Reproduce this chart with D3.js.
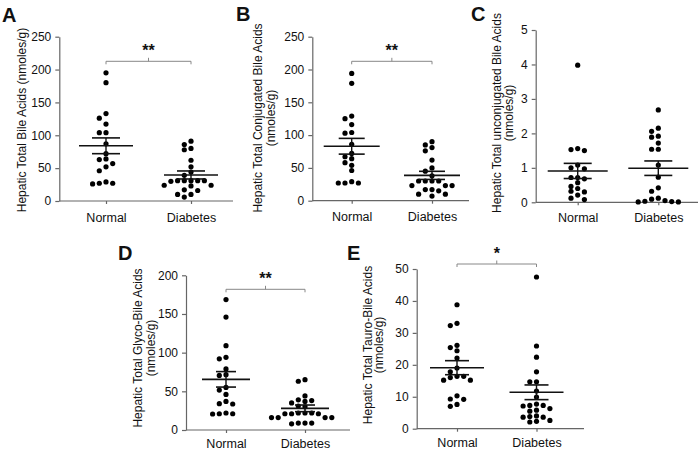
<!DOCTYPE html>
<html><head><meta charset="utf-8">
<script src="https://cdn.jsdelivr.net/npm/d3@7"></script>
<style>
body{margin:0;background:#fff}
svg{display:block}
text{font-family:"Liberation Sans",Arial,sans-serif;fill:#111}
</style>
</head><body>
<svg id="chart" width="700" height="450"></svg>
<script>
// ---------- data ----------
const categories = ["Normal", "Diabetes"];
const panelLetters = ["A", "B", "C", "D", "E"];
const yTitles = [
  ["Hepatic Total Bile Acids (nmoles/g)"],
  ["Hepatic Total Conjugated Bile Acids", "(nmoles/g)"],
  ["Hepatic Total unconjugated Bile Acids", "(nmoles/g)"],
  ["Hepatic Total Glyco-Bile Acids", "(nmoles/g)"],
  ["Hepatic Total Tauro-Bile Acids", "(nmoles/g)"]
];
const yTicksA = [0, 50, 100, 150, 200, 250];
const yTicksB = [0, 50, 100, 150, 200, 250];
const yTicksC = [0, 1, 2, 3, 4, 5];
const yTicksD = [0, 50, 100, 150, 200];
const yTicksE = [0, 10, 20, 30, 40, 50];
const significance = ["**", "**", "", "**", "*"];

const normalA   = [195, 180, 133, 126, 117, 104, 104, 87, 72, 63, 64, 57, 52, 46, 27, 26, 27, 29];
const diabetesA = [91, 86, 80, 78, 62, 52, 44, 39, 31, 31, 31, 30, 31, 31, 24, 24, 23, 17, 16, 10, 6, 10];
const meanA = [84, 39.6];
const semA  = [12, 6.1];

const normalB   = [194, 179, 129, 125, 116, 104, 103, 86, 72, 64, 67, 58, 54, 46, 27, 27, 27, 29];
const diabetesB = [90, 85, 81, 76, 62, 50, 45, 38, 30, 30, 30, 30, 23, 23, 23, 17, 17, 10, 7, 10, 15];
const meanB = [83, 38.6];
const semB  = [12, 6.2];

const normalC   = [3.98, 1.56, 1.5, 1.53, 1.08, 1.0, 0.97, 0.72, 0.72, 0.68, 0.57, 0.46, 0.4, 0.32, 0.3, 0.21, 0.12, 0.08];
const diabetesC = [2.68, 2.15, 2.06, 1.92, 1.89, 1.72, 1.54, 1.54, 1.08, 0.73, 0.42, 0.32, 0.12, 0.05, 0.02, 0.01, 0.01, 0.03, 0.09];
const meanC = [0.91, 0.99];
const semC  = [0.22, 0.21];

const normalD   = [168.6, 146, 109, 92, 94, 79, 70.6, 71.5, 55, 51.6, 46, 34, 33.6, 37, 21, 21, 20.7, 22];
const diabetesD = [65, 63, 44, 39, 38, 37, 35, 31, 30, 22, 22, 21, 21, 21, 22, 16, 16, 16, 16, 9, 9, 8, 9];
const meanD = [65.5, 28];
const semD  = [10, 4.3];

const normalE   = [38.8, 32.3, 33, 26.1, 25.4, 24.4, 22.1, 19, 17.8, 16.4, 16, 15.2, 15.2, 16.4, 10.3, 9.2, 9.3, 7, 7.6];
const diabetesE = [47.5, 25.9, 22.4, 17.8, 14.7, 14.7, 11.8, 9.9, 7.7, 7.3, 7.1, 7.3, 6.3, 5.8, 5.5, 4.0, 3.8, 3.6, 3.6, 2.3, 2.1, 2.6];
const meanE = [19.1, 11.4];
const semE  = [2.2, 2.3];

// ---------- layout ----------
const layout = [
  {x0:59.3,  x1:233, top:36.7,  bot:201,   cN:106,   cD:191,   tx:[26],          ty:120, lx:2,   ly:22,  br:61.3,  mh:27, sh:14, lab:20.5},
  {x0:312.3, x1:469, top:36.7,  bot:200.7, cN:351.7, cD:432,   tx:[262,274.5],   ty:118, lx:236, ly:21,  br:61.3,  mh:28, sh:13, lab:20.5},
  {x0:535.7, x1:698, top:30,    bot:202.3, cN:577.7, cD:658.3, tx:[501,513],     ty:113, lx:471, ly:21,  br:null,  mh:30, sh:14, lab:19.5},
  {x0:186,   x1:350, top:275.3, bot:430,   cN:226,   cD:305,   tx:[141.7,155],   ty:348, lx:118, ly:260, br:289.3, mh:24, sh:10, lab:17.5},
  {x0:416.7, x1:584, top:269,   bot:428.7, cN:457,   cD:536.5, tx:[371.7,383.3], ty:345, lx:347, ly:260, br:264,   mh:27, sh:12, lab:18}
];

const panels = [
  {ticks:yTicksA, groups:[normalA, diabetesA], mean:meanA, sem:semA},
  {ticks:yTicksB, groups:[normalB, diabetesB], mean:meanB, sem:semB},
  {ticks:yTicksC, groups:[normalC, diabetesC], mean:meanC, sem:semC},
  {ticks:yTicksD, groups:[normalD, diabetesD], mean:meanD, sem:semD},
  {ticks:yTicksE, groups:[normalE, diabetesE], mean:meanE, sem:semE}
];

const svg = d3.select("#chart");
const axisColor = "#666";
const R = 2.6, STEP = 6.7, MIND = 4.8;
const FONT = '"Liberation Sans",Arial,sans-serif';

function swarm(values, y, cx) {
  const pts = values.map(v => ({v, py: y(v)})).sort((a, b) => a.py - b.py);
  const placed = [];
  const order = [0, -1, 1, -2, 2, -3, 3, -4, 4, -5, 5, -6, 6, -7, 7];
  pts.forEach(p => {
    p.s = 0;
    for (const s of order) {
      if (!placed.some(q => q.s === s && Math.abs(q.py - p.py) < MIND)) { p.s = s; break; }
    }
    placed.push(p);
  });
  return pts.map(p => ({v: p.v, py: p.py, px: cx + p.s * STEP}));
}

panels.forEach((p, i) => {
  const L = layout[i];
  const g = svg.append("g");
  const y = d3.scaleLinear().domain([0, d3.max(p.ticks)]).range([L.bot, L.top]);
  const x = d3.scalePoint().domain(categories).range([L.cN, L.cD]);

  // y axis
  const ya = g.append("g").attr("transform", `translate(${L.x0},0)`)
    .call(d3.axisLeft(y).tickValues(p.ticks).tickFormat(d3.format("d")).tickSize(4).tickSizeOuter(0).tickPadding(4));
  ya.select(".domain").attr("stroke", axisColor).attr("stroke-width", 1.2);
  ya.selectAll(".tick line").attr("stroke", axisColor).attr("stroke-width", 1.2);
  ya.selectAll(".tick text").style("font-size", "12px").style("font-family", FONT).attr("fill", "#111");

  // x axis
  const xa = g.append("g").attr("transform", `translate(0,${L.bot})`)
    .call(d3.axisBottom(x).tickSize(3).tickSizeOuter(0));
  xa.select(".domain").remove();
  xa.append("line").attr("x1", L.x0).attr("x2", L.x1).attr("stroke", axisColor).attr("stroke-width", 1.2);
  xa.selectAll(".tick line").attr("stroke", axisColor).attr("stroke-width", 1.2);
  xa.selectAll(".tick text").attr("y", L.lab).attr("dy", null)
    .style("font-size", "12.5px").style("font-family", FONT).attr("fill", "#111");

  // y title
  yTitles[i].forEach((t, k) => {
    g.append("text").attr("transform", `translate(${L.tx[k]},${L.ty}) rotate(-90)`)
      .attr("text-anchor", "middle").style("font-size", "12px").text(t);
  });

  // letter
  g.append("text").attr("x", L.lx).attr("y", L.ly).style("font-size", "20px").style("font-weight", "bold").text(panelLetters[i]);

  // dots + mean ± SEM
  categories.forEach((c, j) => {
    const pts = swarm(p.groups[j], y, x(c));
    g.selectAll(null).data(pts).enter().append("circle")
      .attr("cx", d => d.px).attr("cy", d => d.py).attr("r", R).attr("fill", "#000");
    const cx = x(c);
    const m = p.mean[j], s = p.sem[j];
    const ln = (x1, x2, y1, y2, w) => g.append("line").attr("x1", x1).attr("x2", x2).attr("y1", y1).attr("y2", y2)
      .attr("stroke", "#111").attr("stroke-width", w);
    ln(cx - L.mh, cx + L.mh, y(m), y(m), 1.6);
    ln(cx - L.sh, cx + L.sh, y(m + s), y(m + s), 1.6);
    ln(cx - L.sh, cx + L.sh, y(m - s), y(m - s), 1.6);
    ln(cx, cx, y(m + s), y(m - s), 1.4);
  });

  // significance bracket
  if (L.br !== null && significance[i]) {
    const xl = x(categories[0]), xr = x(categories[1]), xm = (xl + xr) / 2;
    g.append("path").attr("d", `M${xl},${L.br + 3}V${L.br}H${xr}V${L.br + 3}M${xm},${L.br}V${L.br - 3.5}`)
      .attr("fill", "none").attr("stroke", "#888").attr("stroke-width", 1);
    g.append("text").attr("x", xm).attr("y", L.br - 5).attr("text-anchor", "middle")
      .style("font-size", "16px").style("font-weight", "bold").text(significance[i]);
  }
});
</script>
</body></html>
